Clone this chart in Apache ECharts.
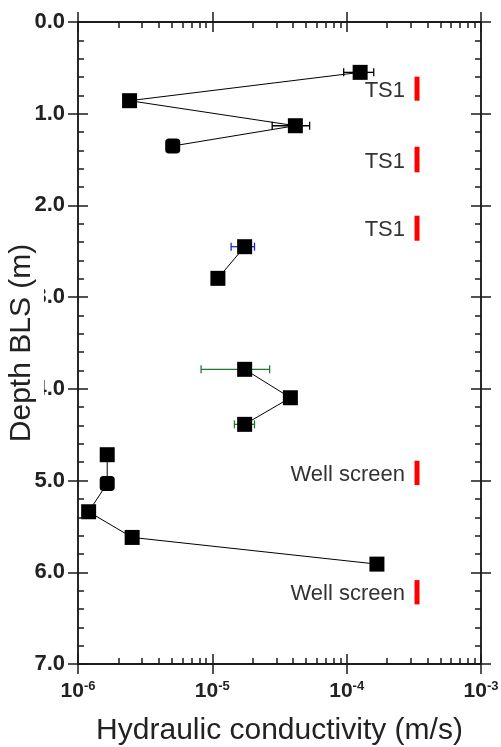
<!DOCTYPE html>
<html>
<head>
<meta charset="utf-8">
<script src="https://cdn.jsdelivr.net/npm/echarts@6/dist/echarts.min.js"></script>
<style>
html, body { margin: 0; padding: 0; background: #fff; }
#main { width: 501px; height: 747px; }
</style>
</head>
<body>
<div id="main"></div>
<script>
// hydraulic conductivity K (m/s) against depth below land surface (m)
var groupA_K = [1.26e-4, 2.42e-6, 4.15e-5, 5.07e-6];
var groupA_D = [0.549, 0.858, 1.131, 1.352];
var groupB_K = [1.74e-5, 1.10e-5];
var groupB_D = [2.450, 2.795];
var groupC_K = [1.74e-5, 3.81e-5, 1.74e-5];
var groupC_D = [3.787, 4.097, 4.387];
var groupD_K = [1.65e-6, 1.65e-6, 1.20e-6, 2.53e-6, 1.68e-4];
var groupD_D = [4.718, 5.031, 5.340, 5.620, 5.911];

// error bars: [depth, low K, high K]
var errBlack = [[0.549, 9.5e-5, 1.59e-4], [1.131, 2.79e-5, 5.3e-5]];
var errBlue = [[2.450, 1.38e-5, 2.06e-5]];
var errGreen = [[3.787, 8.25e-6, 2.67e-5], [4.387, 1.46e-5, 2.06e-5]];

// interval markers
var annoTop = [0.596, 1.360, 2.112, 4.784, 6.085];
var annoBottom = [0.858, 1.639, 2.385, 5.049, 6.350];
var annoLabels = ['TS1', 'TS1', 'TS1', 'Well screen', 'Well screen'];

// axis ticks
var depthTicks = ['0.0', '1.0', '2.0', '3.0', '4.0', '5.0', '6.0', '7.0'];
var decades = [1e-6, 1e-5, 1e-4];
var minorSteps = [2, 3, 4, 5, 6, 7, 8, 9];

var minorK = [];
decades.forEach(function (d) {
    minorSteps.forEach(function (m) { minorK.push(m * d); });
});

var font = 'Liberation Sans, Arial, Helvetica, sans-serif';
var axisColor = '#1a1a1a';
var annoX = 3.34e-4;

function zip(xs, ys) {
    return xs.map(function (x, i) { return [x, ys[i]]; });
}

function xAxisDef(pos, inside, len, custom, withLabel) {
    var ax = {
        type: 'log',
        logBase: 10,
        min: 1e-6,
        max: 1e-3,
        position: pos,
        axisLine: {show: true, onZero: false, lineStyle: {color: axisColor, width: 1.5}},
        axisTick: {show: true, inside: inside, length: len, lineStyle: {color: axisColor, width: 1.5}},
        axisLabel: {show: false},
        splitLine: {show: false},
        minorTick: {show: false},
        minorSplitLine: {show: false}
    };
    if (custom) ax.axisTick.customValues = custom;
    if (withLabel) {
        ax.axisLabel = {
            show: true,
            margin: 16,
            formatter: function (v) {
                return '{b|10}{s|' + Math.round(Math.log10(v)) + '}';
            },
            rich: {
                b: {fontSize: 21, fontWeight: 'bold', color: '#222', fontFamily: font},
                s: {fontSize: 13, fontWeight: 'bold', color: '#222', fontFamily: font,
                    verticalAlign: 'bottom', padding: [0, 0, 9, 0]}
            }
        };
        ax.name = 'Hydraulic conductivity (m/s)';
        ax.nameLocation = 'middle';
        ax.nameGap = 52;
        ax.nameMoveOverlap = false;
        ax.nameTextStyle = {fontSize: 30, color: '#222', fontFamily: font};
    }
    return ax;
}

function yAxisDef(pos, inside, minor, withLabel, withName) {
    var ax = {
        type: 'value',
        inverse: true,
        min: 0,
        max: 7,
        interval: 1,
        position: pos,
        z: withName ? 5 : 0,
        axisLine: {show: true, onZero: false, lineStyle: {color: axisColor, width: 1.5}},
        axisTick: {show: true, inside: inside, length: 10, lineStyle: {color: axisColor, width: 1.5}},
        minorTick: {show: minor, splitNumber: 5, length: 6, lineStyle: {color: axisColor, width: 1.5}},
        axisLabel: {show: false},
        splitLine: {show: false},
        minorSplitLine: {show: false}
    };
    if (withLabel) {
        ax.axisLabel = {
            show: true,
            margin: 13,
            fontSize: 22,
            fontWeight: 'bold',
            color: '#222',
            fontFamily: font,
            formatter: function (v) { return depthTicks[Math.round(v)]; }
        };
    }
    if (withName) {
        // title sits on top of the tick labels, as in the original figure
        ax.name = 'Depth BLS (m)';
        ax.nameLocation = 'middle';
        ax.nameRotate = 90;
        ax.nameGap = 34;
        ax.nameMoveOverlap = false;
        ax.nameTextStyle = {fontSize: 30, color: '#222', fontFamily: font,
            backgroundColor: '#fff', padding: [0, 0, 7, 0]};
    }
    return ax;
}

function errRender(color) {
    return function (params, api) {
        var d = api.value(0), lo = api.value(1), hi = api.value(2);
        var p1 = api.coord([lo, d]);
        var p2 = api.coord([hi, d]);
        var cap = 4;
        var st = {stroke: color, lineWidth: 1.3};
        return {
            type: 'group',
            children: [
                {type: 'line', shape: {x1: p1[0], y1: p1[1], x2: p2[0], y2: p2[1]}, style: st},
                {type: 'line', shape: {x1: p1[0], y1: p1[1] - cap, x2: p1[0], y2: p1[1] + cap}, style: st},
                {type: 'line', shape: {x1: p2[0], y1: p2[1] - cap, x2: p2[0], y2: p2[1] + cap}, style: st}
            ]
        };
    };
}

function errSeries(data, color) {
    return {
        type: 'custom',
        xAxisIndex: 0,
        yAxisIndex: 0,
        z: 1,
        encode: {x: [1, 2], y: 0},
        data: data,
        renderItem: errRender(color)
    };
}

function lineSeries(ks, ds, rounded) {
    return {
        type: 'line',
        xAxisIndex: 0,
        yAxisIndex: 0,
        z: 3,
        data: zip(ks, ds),
        symbol: function (v, p) {
            return rounded.indexOf(p.dataIndex) >= 0 ? 'roundRect' : 'rect';
        },
        symbolSize: 15,
        showAllSymbol: true,
        itemStyle: {color: '#000'},
        lineStyle: {color: '#000', width: 1}
    };
}

var myChart = echarts.init(document.getElementById('main'));

var option = {
    animation: false,
    backgroundColor: '#fff',
    grid: {left: 78, right: 20, top: 22, bottom: 83, containLabel: false, outerBoundsMode: 'none'},
    xAxis: [
        xAxisDef('bottom', false, 10, null, true),
        xAxisDef('bottom', true, 10, null, false),
        xAxisDef('bottom', true, 6, minorK, false),
        xAxisDef('top', false, 10, null, false),
        xAxisDef('top', true, 10, null, false),
        xAxisDef('top', true, 6, minorK, false)
    ],
    yAxis: [
        yAxisDef('left', false, false, true, false),
        yAxisDef('left', true, true, false, true),
        yAxisDef('right', false, false, false, false),
        yAxisDef('right', true, true, false, false)
    ],
    series: [
        errSeries(errBlack, '#000'),
        errSeries(errBlue, '#1f1fe0'),
        errSeries(errGreen, '#1e7a2e'),
        lineSeries(groupA_K, groupA_D, [3]),
        lineSeries(groupB_K, groupB_D, []),
        lineSeries(groupC_K, groupC_D, []),
        lineSeries(groupD_K, groupD_D, [1]),
        {
            type: 'custom',
            xAxisIndex: 0,
            yAxisIndex: 0,
            z: 2,
            encode: {x: 0, y: [1, 2]},
            data: annoTop.map(function (t, i) { return [annoX, t, annoBottom[i], i]; }),
            renderItem: function (params, api) {
                var a = api.coord([api.value(0), api.value(1)]);
                var b = api.coord([api.value(0), api.value(2)]);
                return {
                    type: 'group',
                    children: [
                        {type: 'rect', shape: {x: a[0] - 2.5, y: a[1], width: 5, height: b[1] - a[1]},
                            style: {fill: '#ff0000'}},
                        {type: 'text', style: {
                            text: annoLabels[api.value(3)],
                            x: a[0] - 12, y: (a[1] + b[1]) / 2 + 2,
                            align: 'right', verticalAlign: 'middle',
                            fontSize: 22, fontFamily: font, fill: '#333'
                        }}
                    ]
                };
            }
        }
    ]
};

myChart.setOption(option);
</script>
</body>
</html>
